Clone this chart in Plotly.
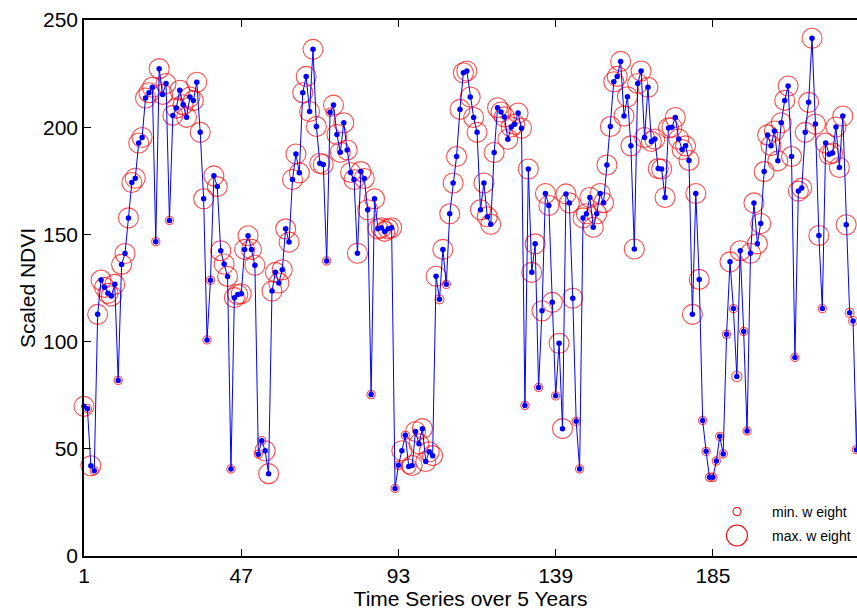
import plotly.graph_objects as go

# Scaled NDVI time series (5 years, 46 composites per year)
ndvi = [
    69.8, 68.7, 42.1, 39.8, 112.7, 128.7, 125.3, 122.5, 121.3, 126.7,
    81.9, 136.0, 141.1, 157.7, 174.2, 176.2, 192.6, 195.2, 213.6, 216.1,
    218.6, 146.6, 227.3, 215.3, 220.4, 156.5, 205.5, 208.9, 217.2, 210.5,
    204.6, 214.1, 212.4, 221.0, 197.6, 166.6, 100.8, 128.6, 177.3, 172.3,
    142.4, 136.2, 130.4, 40.6, 120.5, 122.0, 122.3, 143.0, 149.4, 143.0,
    135.6, 47.5, 53.8, 49.1, 38.4, 123.6, 132.3, 127.3, 133.5, 152.6,
    146.4, 175.6, 187.5, 178.7, 216.1, 223.7, 207.3, 236.3, 200.3, 183.2,
    182.6, 137.6, 207.0, 210.3, 196.6, 188.3, 202.1, 189.4, 178.9, 175.6,
    141.2, 179.3, 176.1, 161.5, 75.3, 166.6, 152.6, 153.1, 151.4, 152.6,
    153.1, 31.5, 42.3, 49.1, 56.3, 41.8, 42.2, 58.1, 52.3, 59.4,
    44.1, 48.6, 46.8, 130.5, 119.7, 143.0, 126.7, 159.6, 174.0, 186.3,
    208.3, 225.4, 226.2, 214.1, 204.5, 197.6, 161.5, 174.0, 158.2, 154.7,
    188.2, 209.1, 207.1, 204.8, 194.4, 200.1, 201.4, 206.6, 199.5, 70.2,
    180.5, 132.3, 145.6, 78.6, 114.4, 169.1, 163.5, 118.3, 74.7, 99.2,
    59.4, 168.9, 164.7, 120.2, 62.8, 40.6, 157.7, 159.6, 167.2, 153.3,
    159.6, 169.1, 164.8, 182.4, 200.3, 221.2, 223.7, 230.7, 205.2, 214.2,
    191.3, 143.2, 220.4, 226.2, 195.2, 218.6, 193.3, 194.5, 180.7, 180.5,
    167.2, 199.6, 200.0, 204.5, 194.5, 189.6, 191.3, 184.5, 112.7, 169.1,
    129.0, 63.2, 48.8, 36.7, 36.7, 44.3, 55.8, 47.6, 103.4, 137.2,
    115.4, 83.7, 142.4, 104.7, 58.3, 141.2, 164.7, 145.6, 155.1, 179.3,
    196.4, 191.4, 198.2, 184.3, 202.1, 212.5, 219.2, 186.3, 92.6, 170.2,
    171.6, 197.6, 211.6, 241.5, 201.5, 149.5, 115.4, 192.6, 187.4, 188.0,
    200.1, 181.2, 205.2, 154.5, 113.4, 109.6, 49.6, 132.0,
]

# Per-observation weight (0 = min. weight, 1 = max. weight)
weight = [
    1, 0.1, 1, 0.1, 1, 1, 1, 1, 1, 1,
    0.1, 1, 1, 1, 1, 1, 1, 1, 1, 1,
    1, 0.1, 1, 1, 1, 0.1, 1, 1, 1, 1,
    1, 1, 1, 1, 1, 1, 0.1, 0.1, 1, 1,
    1, 1, 1, 0.1, 1, 1, 1, 1, 1, 1,
    1, 0.1, 0.1, 1, 1, 1, 1, 1, 1, 1,
    1, 1, 1, 1, 1, 1, 1, 1, 1, 1,
    1, 0.1, 0.1, 1, 1, 1, 1, 1, 1, 1,
    1, 1, 1, 1, 0.1, 1, 1, 1, 1, 1,
    1, 0.1, 0.1, 1, 0.1, 0.6, 1, 1, 1, 1,
    1, 1, 1, 1, 0.15, 1, 0.1, 1, 1, 1,
    1, 1, 1, 1, 1, 1, 1, 1, 1, 1,
    1, 1, 1, 1, 1, 1, 1, 1, 1, 0.1,
    1, 1, 1, 0.1, 1, 1, 1, 1, 0.1, 1,
    1, 1, 1, 1, 0.1, 0.1, 1, 1, 1, 1,
    1, 1, 1, 1, 1, 1, 1, 1, 1, 1,
    1, 1, 1, 1, 1, 1, 1, 1, 1, 1,
    1, 1, 1, 1, 1, 1, 1, 1, 1, 1,
    1, 0.1, 0.1, 0.1, 0.1, 0.1, 0.1, 0.1, 0.1, 1,
    0.1, 0.25, 1, 0.1, 0.1, 1, 1, 1, 1, 1,
    1, 1, 1, 1, 1, 1, 1, 1, 0.1, 1,
    1, 1, 1, 1, 1, 1, 0.1, 1, 1, 1,
    1, 1, 1, 1, 0.15, 0.15, 0.1, 1,
]

t = list(range(1, len(ndvi) + 1))
x_ticks = [1, 47, 93, 139, 185]
y_ticks = [0, 50, 100, 150, 200, 250]

MIN_D, MAX_D = 7, 20
circle_size = [MIN_D + (MAX_D - MIN_D) * w for w in weight]

FONT = "Liberation Sans, Arial, Helvetica, sans-serif"

fig = go.Figure()

# weight circles (not clipped, so the first one crosses the y axis)
fig.add_trace(go.Scatter(
    x=t, y=ndvi, mode="markers",
    marker=dict(symbol="circle-open", size=circle_size, color="#ff0000",
                line=dict(width=1.1, color="#ff0000")),
    showlegend=False, hoverinfo="skip", cliponaxis=False,
))

# time series with observation dots
fig.add_trace(go.Scatter(
    x=t, y=ndvi, mode="lines+markers",
    line=dict(color="#0000ff", width=1),
    marker=dict(color="#0000ff", size=5.5),
    showlegend=False, cliponaxis=False,
))

# hand-built legend in the lower right corner
leg_x = 0.8447
leg_items = [("min. w eight", 0.0829, MIN_D + 1), ("max. w eight", 0.0382, MAX_D + 1)]
for label, ly, d in leg_items:
    fig.add_shape(type="circle", xref="paper", yref="paper",
                  xsizemode="pixel", ysizemode="pixel",
                  xanchor=leg_x, yanchor=ly,
                  x0=-d / 2, x1=d / 2, y0=-d / 2, y1=d / 2,
                  line=dict(color="#ff0000", width=1.1))
    fig.add_annotation(x=0.8874, y=ly, xref="paper", yref="paper",
                       text=label, showarrow=False, xanchor="left",
                       yanchor="middle",
                       font=dict(family=FONT, size=14, color="black"))

fig.update_layout(
    width=857, height=612,
    margin=dict(l=84, r=0, t=20, b=56),
    paper_bgcolor="white", plot_bgcolor="white",
    font=dict(family=FONT, size=21, color="black"),
)

fig.update_xaxes(
    range=[1, 1 + 773 / 3.418],
    tickvals=x_ticks, ticktext=[str(v) for v in x_ticks],
    ticks="inside", ticklen=7, tickwidth=1, tickcolor="black",
    showline=True, linecolor="black", linewidth=1.5, mirror="ticks",
    showgrid=False, zeroline=False,
    title=dict(text="Time Series over 5 Years", standoff=5,
               font=dict(family=FONT, size=21)),
    tickfont=dict(family=FONT, size=21),
)
fig.update_yaxes(
    range=[0, 250],
    tickvals=y_ticks,
    ticks="inside", ticklen=7, tickwidth=1, tickcolor="black",
    showline=True, linecolor="black", linewidth=1.5, mirror=False,
    showgrid=False, zeroline=False,
    title=dict(text="Scaled NDVI", standoff=2,
               font=dict(family=FONT, size=21)),
    tickfont=dict(family=FONT, size=21),
)

fig.write_html("out.html")
